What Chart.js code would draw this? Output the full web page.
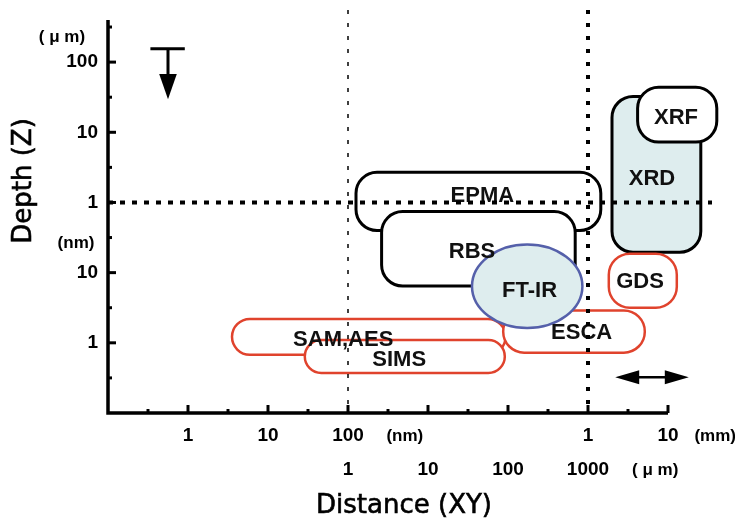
<!DOCTYPE html>
<html lang="en">
<head>
    <meta charset="UTF-8">
    <title>Depth vs Distance - analysis methods</title>
    <style>
        body { margin: 0; background: #fff; }
        canvas { display: block; }
    </style>
    <script src="https://cdn.jsdelivr.net/npm/chart.js"></script>
</head>
<body>
    <canvas id="myChart" width="735" height="523"></canvas>

    <script>
        // Axis positions are in decades (log steps), the picture has breaks in both axes
        // x: 0 = 1 nm, 2 = 100 nm / 1 um, 5 = 1 mm ; y: 0 = 1 nm, 2 = 1 um, 4 = 100 um
        var xTickValues = [0, 1, 2, 5, 6];
        var xTickLabels = ['1', '10', '100', '1', '10'];
        var xTickValues2 = [2, 3, 4, 5];
        var xTickLabels2 = ['1', '10', '100', '1000'];
        var yTickValues = [4, 3, 2, 1, 0];
        var yTickLabels = ['100', '10', '1', '10', '1'];

        // methods: ranges in decade units
        var methods = ['XRD', 'XRF', 'EPMA', 'RBS', 'GDS', 'SAM,AES', 'SIMS', 'ESCA', 'FT-IR'];
        var xMin = [5.30, 5.62, 2.10, 2.42, 5.26, 0.55, 1.46, 3.94, 3.55];
        var xMax = [6.41, 6.61, 5.16, 4.84, 6.11, 3.97, 3.96, 5.71, 4.93];
        var yMin = [1.29, 2.86, 1.60, 0.81, 0.50, -0.17, -0.43, -0.14, 0.21];
        var yMax = [3.51, 3.64, 2.43, 1.87, 1.27, 0.34, 0.04, 0.46, 1.40];
        var shapes = ['box', 'box', 'box', 'box', 'box', 'box', 'box', 'box', 'ellipse'];
        var borderColors = ['#000', '#000', '#000', '#000', '#e0432d', '#e0432d', '#e0432d', '#e0432d', '#5560aa'];
        var fillColors = ['#deedee', '#fff', '#fff', '#fff', '#fff', '#fff', '#fff', '#fff', '#deedee'];
        // label positions (decade units)
        var labelX = [5.80, 6.10, 3.68, 3.55, 5.65, 1.94, 2.64, 4.92, 4.27];
        var labelY = [2.33, 3.21, 2.09, 1.29, 0.87, 0.04, -0.25, 0.14, 0.74];

        var refLinesX = [2, 5];
        var refLinesY = [2];

        const diagramPlugin = {
            id: 'diagramPlugin',
            afterDraw: function(chart) {
                const ctx = chart.ctx;
                const xs = chart.scales.x, ys = chart.scales.y;
                const area = chart.chartArea;
                const X = v => xs.getPixelForValue(v);
                const Y = v => ys.getPixelForValue(v);
                ctx.save();

                // boxes
                methods.forEach(function(name, i) {
                    const x0 = X(xMin[i]), x1 = X(xMax[i]);
                    const y0 = Y(yMax[i]), y1 = Y(yMin[i]);
                    ctx.beginPath();
                    if (shapes[i] === 'ellipse') {
                        ctx.ellipse((x0 + x1) / 2, (y0 + y1) / 2, (x1 - x0) / 2, (y1 - y0) / 2, 0, 0, Math.PI * 2);
                    } else {
                        const r = Math.min(21, (y1 - y0) / 2);
                        ctx.roundRect(x0, y0, x1 - x0, y1 - y0, r);
                    }
                    ctx.fillStyle = fillColors[i];
                    ctx.fill();
                    ctx.lineWidth = borderColors[i] === '#000' ? 3 : 2.5;
                    ctx.strokeStyle = borderColors[i];
                    ctx.stroke();
                });

                // labels
                ctx.fillStyle = '#111';
                ctx.font = 'bold 22px "Liberation Sans", Arial, sans-serif';
                ctx.textAlign = 'center';
                ctx.textBaseline = 'middle';
                methods.forEach(function(name, i) {
                    ctx.fillText(name, X(labelX[i]), Y(labelY[i]));
                });

                // reference lines
                ctx.strokeStyle = '#000';
                ctx.lineWidth = 1.5;
                ctx.setLineDash([4, 9]);
                ctx.beginPath();
                ctx.moveTo(X(refLinesX[0]), 10);
                ctx.lineTo(X(refLinesX[0]), area.bottom);
                ctx.stroke();
                ctx.lineWidth = 4;
                ctx.beginPath();
                ctx.moveTo(X(refLinesX[1]), 10);
                ctx.lineTo(X(refLinesX[1]), area.bottom);
                ctx.stroke();
                ctx.setLineDash([5, 7]);
                ctx.beginPath();
                ctx.moveTo(area.left, Y(refLinesY[0]));
                ctx.lineTo(712, Y(refLinesY[0]));
                ctx.stroke();
                ctx.setLineDash([]);

                // axes
                ctx.lineWidth = 3.5;
                ctx.beginPath();
                ctx.moveTo(area.left, area.top);
                ctx.lineTo(area.left, area.bottom);
                ctx.lineTo(area.right, area.bottom);
                ctx.stroke();
                ctx.lineWidth = 3;
                for (let v = -0.5; v <= 6.01; v += 0.5) {
                    const len = Number.isInteger(v) ? 8 : 4;
                    ctx.beginPath();
                    ctx.moveTo(X(v), area.bottom);
                    ctx.lineTo(X(v), area.bottom - len);
                    ctx.stroke();
                }
                for (let v = -0.5; v <= 4.51; v += 0.5) {
                    const len = Number.isInteger(v) ? 8 : 4;
                    ctx.beginPath();
                    ctx.moveTo(area.left, Y(v));
                    ctx.lineTo(area.left + len, Y(v));
                    ctx.stroke();
                }

                // tick labels
                ctx.fillStyle = '#000';
                ctx.font = 'bold 19px "Liberation Sans", Arial, sans-serif';
                ctx.textAlign = 'center';
                xTickValues.forEach(function(v, i) {
                    ctx.fillText(xTickLabels[i], X(v), area.bottom + 23);
                });
                xTickValues2.forEach(function(v, i) {
                    ctx.fillText(xTickLabels2[i], X(v), area.bottom + 57);
                });
                ctx.textAlign = 'right';
                yTickValues.forEach(function(v, i) {
                    ctx.fillText(yTickLabels[i], area.left - 10, Y(v));
                });
                ctx.font = 'bold 17px "Liberation Sans Narrow", "Liberation Sans", sans-serif';
                ctx.textAlign = 'center';
                ctx.fillText('(nm)', X(2.71), area.bottom + 23);
                ctx.fillText('(mm)', X(6.59), area.bottom + 23);
                ctx.fillText('( μ m)', X(5.84), area.bottom + 57);
                ctx.fillText('( μ m)', 62, Y(4.36));
                ctx.fillText('(nm)', 76, Y(1.42));

                // axis titles
                ctx.font = '26px "DejaVu Sans", sans-serif';
                ctx.lineWidth = 0.6;
                ctx.fillText('Distance (XY)', 404, 506);
                ctx.strokeText('Distance (XY)', 404, 506);
                ctx.save();
                ctx.translate(24, 181);
                ctx.rotate(-Math.PI / 2);
                ctx.fillText('Depth (Z)', 0, 0);
                ctx.strokeText('Depth (Z)', 0, 0);
                ctx.restore();

                // depth arrow
                ctx.lineWidth = 3;
                ctx.beginPath();
                ctx.moveTo(X(-0.47), Y(4.19));
                ctx.lineTo(X(-0.04), Y(4.19));
                ctx.moveTo(X(-0.25), Y(4.19));
                ctx.lineTo(X(-0.25), Y(3.75));
                ctx.stroke();
                ctx.beginPath();
                ctx.moveTo(X(-0.36), Y(3.83));
                ctx.lineTo(X(-0.14), Y(3.83));
                ctx.lineTo(X(-0.25), Y(3.47));
                ctx.closePath();
                ctx.fill();

                // distance arrow
                const ay = Y(-0.49), ax0 = X(5.34), ax1 = X(6.26);
                ctx.lineWidth = 2.5;
                ctx.beginPath();
                ctx.moveTo(ax0 + 10, ay);
                ctx.lineTo(ax1 - 10, ay);
                ctx.stroke();
                ctx.beginPath();
                ctx.moveTo(ax0, ay);
                ctx.lineTo(ax0 + 24, ay - 7);
                ctx.lineTo(ax0 + 24, ay + 7);
                ctx.closePath();
                ctx.moveTo(ax1, ay);
                ctx.lineTo(ax1 - 24, ay - 7);
                ctx.lineTo(ax1 - 24, ay + 7);
                ctx.closePath();
                ctx.fill();

                ctx.restore();
            }
        };

        var ctx = document.getElementById('myChart').getContext('2d');
        new Chart(ctx, {
            type: 'scatter',
            data: { datasets: [{ data: [] }] },
            options: {
                responsive: false,
                animation: false,
                layout: { padding: { left: 108, right: 67, top: 20, bottom: 110 } },
                plugins: { legend: { display: false }, tooltip: { enabled: false } },
                scales: {
                    x: { type: 'linear', min: -1, max: 6, display: false },
                    y: { type: 'linear', min: -1, max: 4.6, display: false }
                }
            },
            plugins: [diagramPlugin]
        });
    </script>
</body>
</html>
